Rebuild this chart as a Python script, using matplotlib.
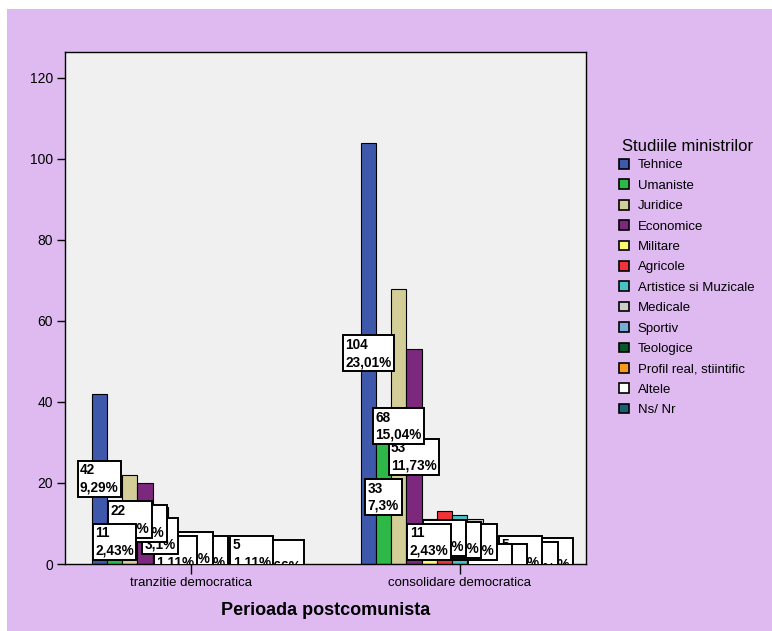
import matplotlib
matplotlib.use('Agg')
import matplotlib.pyplot as plt
import numpy as np
from matplotlib.patches import Rectangle

plt.rcParams['font.family'] = ['Liberation Sans', 'DejaVu Sans']

# perioade (grupuri pe axa x)
perioade = ['tranzitie democratica', 'consolidare democratica']
# studiile ministrilor (serii)
studii = ['Tehnice', 'Umaniste', 'Juridice', 'Economice', 'Militare', 'Agricole',
          'Artistice si Muzicale', 'Medicale', 'Sportiv', 'Teologice',
          'Profil real, stiintific', 'Altele', 'Ns/ Nr']
tranzitie = [42, 11, 22, 20, 14, 5, 7, 5, 0, 0, 5, 0, 3]
consolidare = [104, 33, 68, 53, 11, 13, 12, 11, 1, 1, 5, 2, 4]
culori = ['#3E58AC', '#2EB848', '#D3CE97', '#7C287D', '#FBF873', '#EF3338',
          '#48C2C5', '#CCCCCC', '#7AAAD5', '#0A562C', '#F8981D', '#FFFFFF', '#1A5F76']

valori = np.array([tranzitie, consolidare])
total = valori.sum()


def fmt_pct(v):
    s = '%.2f' % (100.0 * v / total)
    s = s.rstrip('0').rstrip('.')
    return s.replace('.', ',') + '%'


fig = plt.figure(figsize=(7.72, 6.31), dpi=100, facecolor='white')
# fundal mov (cu margine alba sus si stanga)
fig.patches.append(Rectangle((7 / 772, 0), 1, 1 - 9 / 631, transform=fig.transFigure,
                             facecolor='#DFBAF1', edgecolor='none', zorder=-10))

ax = fig.add_axes([65 / 772, 1 - 564 / 631, (586 - 65) / 772, (564 - 52) / 631])
ax.set_facecolor('#F0F0F0')

n = len(studii)
w = 0.0567
x = np.arange(len(perioade))

handles = []
for i in range(n):
    pos = x + (i - (n - 1) / 2) * w
    b = ax.bar(pos, valori[:, i], width=w, color=culori[i], edgecolor='black',
               linewidth=0.8, label=studii[i], zorder=2)
    handles.append(b)
    for xp, v in zip(pos, valori[:, i]):
        if v == 0:
            continue
        ax.text(xp, v / 2, '%d\n%s' % (v, fmt_pct(v)), ha='center', va='center',
                multialignment='left', fontsize=9.8, fontweight='bold',
                linespacing=1.3, clip_on=True, zorder=30 - i,
                bbox=dict(boxstyle='square,pad=0.18', facecolor='white',
                          edgecolor='black', linewidth=1.4))

ax.set_xlim(-0.468, 1.47)
ax.set_ylim(0, 126.4)
ax.set_yticks(np.arange(0, 121, 20))
ax.set_xticks(x)
ax.set_xticklabels(perioade, fontsize=9.5)
ax.tick_params(axis='y', labelsize=10, length=6, width=1, direction='out', pad=2.5)
ax.tick_params(axis='x', length=7, width=1, direction='out', pad=2)
for sp in ax.spines.values():
    sp.set_color('black')
    sp.set_linewidth(1)

ax.set_xlabel('Perioada postcomunista', fontsize=13, fontweight='bold', labelpad=10)

# legenda
fig.text(688 / 772, 1 - 146.7 / 631, 'Studiile ministrilor', fontsize=12,
         ha='center', va='center')
leg = ax.legend(handles=handles, loc='upper left', bbox_to_anchor=(619 / 772, 1 - 159 / 631),
                bbox_transform=fig.transFigure, frameon=False, fontsize=9.5,
                borderpad=0, borderaxespad=0, handlelength=0.76, handleheight=0.76,
                handletextpad=0.66, labelspacing=0.60)
for h in leg.legend_handles:
    h.set_linewidth(1.2)

fig.savefig('out.png', dpi=100, facecolor=fig.get_facecolor())
